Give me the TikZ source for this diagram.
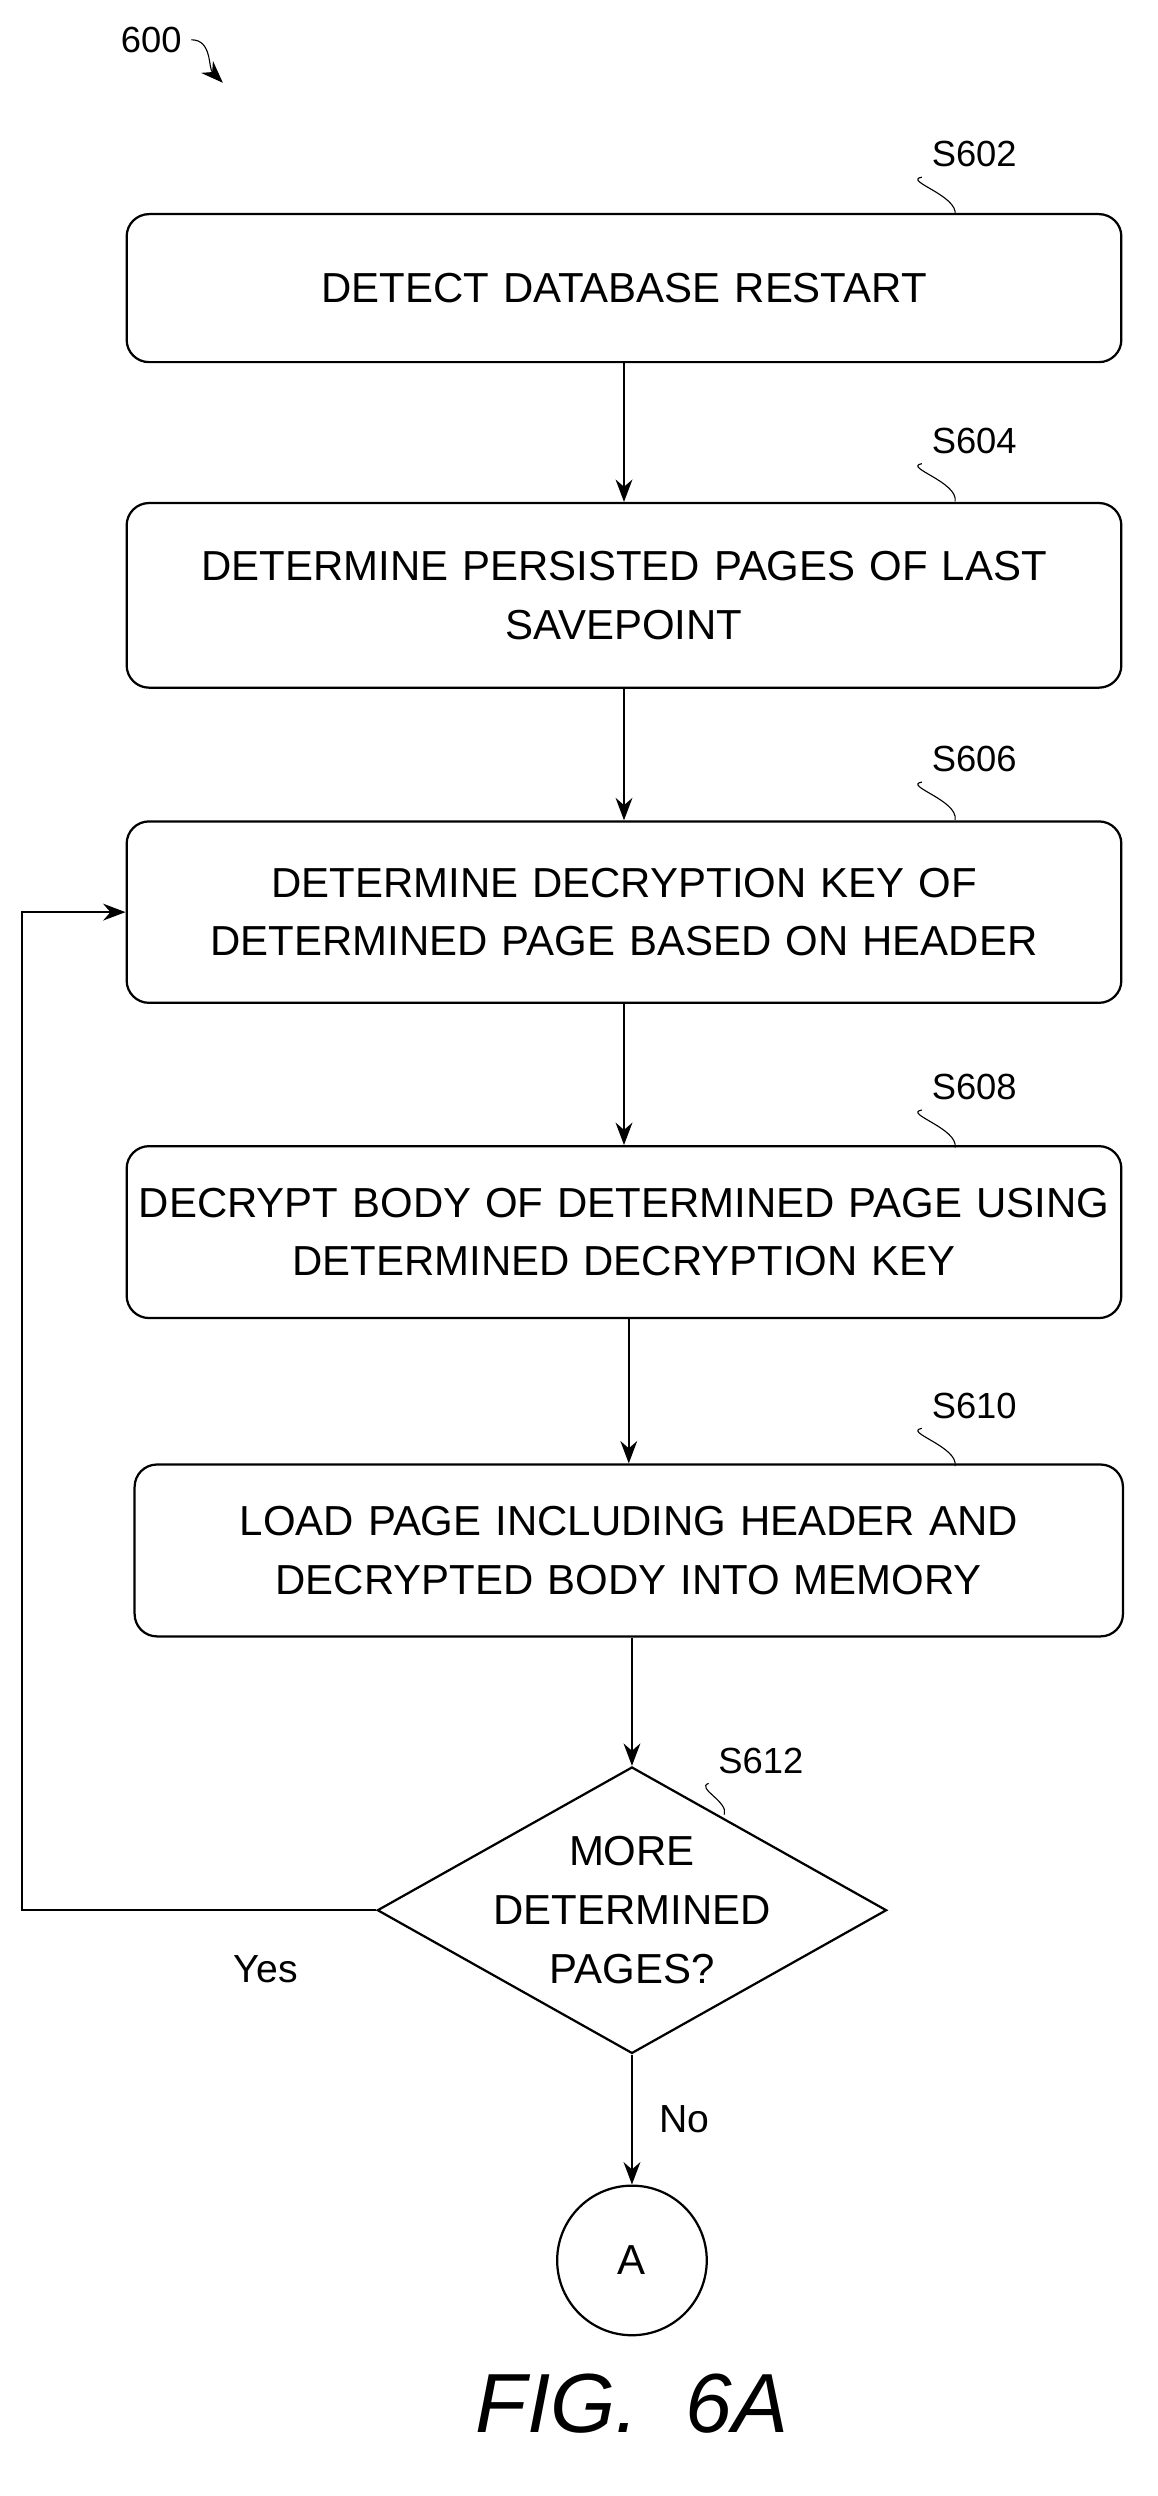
\documentclass[tikz,border=0pt]{standalone}
\usepackage{fontspec}
\setmainfont{Liberation Sans}
\usetikzlibrary{shapes.geometric,arrows.meta}
\begin{document}
\begin{tikzpicture}[x=0.02cm, y=-0.02cm,
  flowbox/.style={draw, thick, rounded corners=8pt, minimum width=12.5cm, text width=12.2cm, align=center, font=\fontsize{15}{21}\selectfont},
  ref/.style={font=\fontsize{13}{15}\selectfont},
  arr/.style={-{Stealth[length=8pt,width=6pt]}, thick}]
  
  \useasboundingbox (0,0) rectangle (727,1568);
  
  % ***************** STEPS *****************
  \node[flowbox, minimum height=1.86cm] (s602) at (392,181) {DETECT DATABASE RESTART};
  \node[flowbox, minimum height=2.32cm] (s604) at (392,374) {DETERMINE PERSISTED PAGES OF LAST\\SAVEPOINT};
  \node[flowbox, minimum height=2.28cm] (s606) at (392,573) {DETERMINE DECRYPTION KEY OF\\DETERMINED PAGE BASED ON HEADER};
  \node[flowbox, minimum height=2.16cm] (s608) at (392,774) {DECRYPT BODY OF DETERMINED PAGE USING\\DETERMINED DECRYPTION KEY};
  \node[flowbox, minimum height=2.16cm, minimum width=12.42cm, text width=12.1cm] (s610) at (395,974) {LOAD PAGE INCLUDING HEADER AND\\DECRYPTED BODY INTO MEMORY};
  \node[draw, thick, diamond, aspect=1.78, minimum width=6.4cm, minimum height=3.6cm, inner sep=-14pt, align=center, font=\fontsize{15}{21}\selectfont] (s612) at (397,1200) {MORE\\DETERMINED\\PAGES?};
  \node[draw, thick, circle, minimum size=1.88cm, font=\fontsize{15}{21}\selectfont] (conA) at (397,1420) {A};
  
  % ***************** REFERENCE LABELS *****************
  \node[ref] (n600) at (95,25) {600};
  \coordinate (p600) at (140,52);
  \draw[arr, thin] (n600.east) to[out=0, in=135] (p600);
  \foreach \name/\y/\x [count=\i] in {602/97/612, 604/277/612, 606/477/612, 608/683/612, 610/883/612} {
    \node[ref] (r\name) at (\x,\y) {S\name};
    \coordinate (t\name) at (\x-12,\y+38);
    \draw (r\name.south west) to[out=190, in=80] (t\name);
  }
  \node[ref] (r612) at (478,1106) {S612};
  \coordinate (t612) at (455,1140);
  \draw (r612.south west) to[out=200, in=70] (t612);
  
  % ***************** CONNECTORS *****************
  \draw[arr] (s602) -- (s604);
  \draw[arr] (s604) -- (s606);
  \draw[arr] (s606) -- (s608);
  \draw[arr] (s608.south -| s610) -- (s610);
  \draw[arr] (s610.south -| s612) -- (s612);
  \draw[arr] (s612) -- node[right=6pt, ref, font=\fontsize{14}{17}\selectfont] (no) {No} (conA);
  \coordinate (loop) at (14,1200);
  \draw[arr] (s612.west) -- (loop) |- (s606.west);
  \node[ref, font=\fontsize{14}{17}\selectfont] (yes) at (167,1237) {Yes};
  
  \node[font=\fontsize{30}{36}\selectfont\itshape] (fig) at (397,1510) {FIG.\ \ 6A};
\end{tikzpicture}
\end{document}
